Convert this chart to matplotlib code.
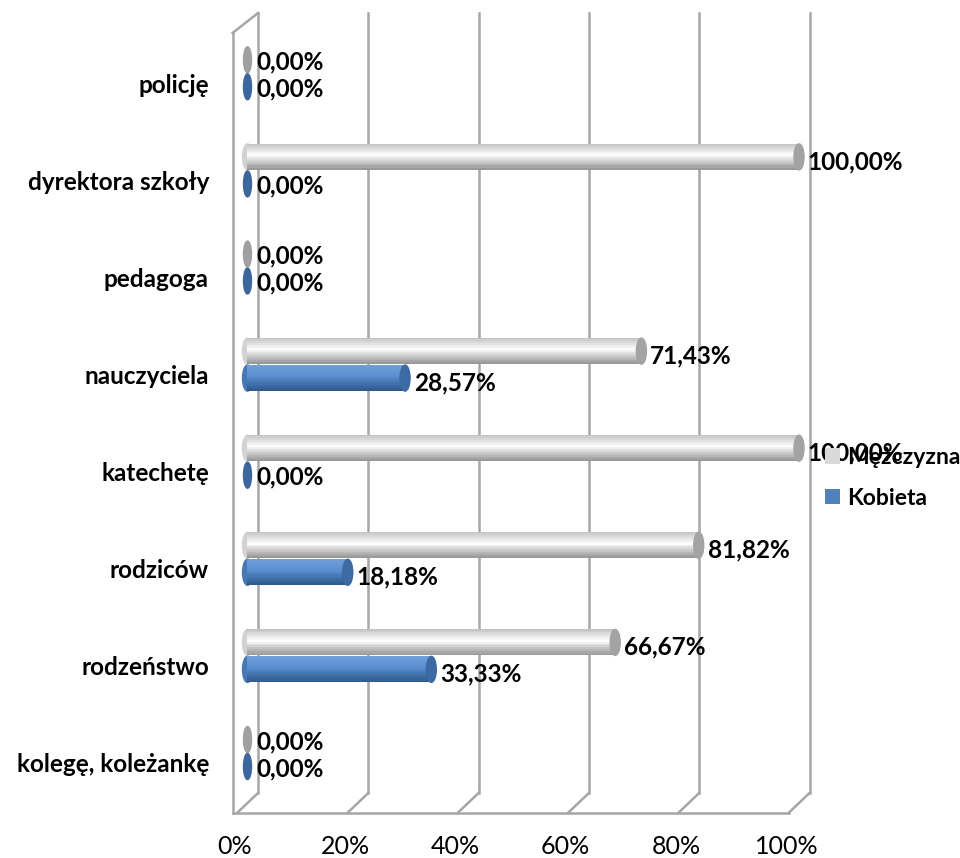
import numpy as np
import matplotlib
matplotlib.use("Agg")
import matplotlib.pyplot as plt
from matplotlib.patches import Ellipse, Patch
from matplotlib.colors import to_rgb

# --- data (bottom -> top) ---
categories = ["kolegę, koleżankę", "rodzeństwo", "rodziców", "katechetę",
              "nauczyciela", "pedagoga", "dyrektora szkoły", "policję"]
men = [0.0, 66.67, 81.82, 100.0, 71.43, 0.0, 100.0, 0.0]      # Mężczyzna
women = [0.0, 33.33, 18.18, 0.0, 28.57, 0.0, 0.0, 0.0]        # Kobieta
series_names = ["Mężczyzna", "Kobieta"]
xticks = [0, 20, 40, 60, 80, 100]
xtick_labels = ["0%", "20%", "40%", "60%", "80%", "100%"]

FONT = ["Lato", "DejaVu Sans"]
plt.rcParams['font.family'] = FONT

W, H = 960, 858
fig = plt.figure(figsize=(W / 100, H / 100), dpi=100)
ax = fig.add_axes([0, 0, 1, 1])
ax.axis("off")

# pixel mapping: front plane 0% at x=237, 5.515 px per percent
x0_px, xs = 237.0, 5.515
ax.set_xlim(-x0_px / xs, (W - x0_px) / xs)
# categories: 97.1 px apart, bottom label at y=765
y0_px, ys = 765.0, 97.1
ax.set_ylim((y0_px - H) / ys, y0_px / ys)

dx = 21 / xs      # full depth shift (right)
dy = 20 / ys      # full depth shift (up)
y_top = (y0_px - 13) / ys
y_floor_back = (y0_px - 793) / ys
y_floor_front = y_floor_back - dy
y_wall_front_top = y_top - dy

grid_c = "#a6a6a6"
lw = 1.8
# back wall gridlines
for t in xticks:
    ax.plot([t + dx, t + dx], [y_floor_back, y_top], color=grid_c, lw=lw, zorder=1)
    ax.plot([t, t + dx], [y_floor_front, y_floor_back], color=grid_c, lw=lw, zorder=1)
# floor front edge
ax.plot([-0.8, 100], [y_floor_front, y_floor_front], color=grid_c, lw=lw, zorder=1)
# left side wall
ax.plot([-0.8, -0.8], [y_floor_front, y_wall_front_top], color=grid_c, lw=lw, zorder=1)
ax.plot([-0.8, dx], [y_wall_front_top, y_top], color=grid_c, lw=lw, zorder=1)

# x tick labels
for t, lab in zip(xticks, xtick_labels):
    ax.text(t - 0.4, (y0_px - 847) / ys, lab, ha="center", va="center",
            fontsize=18, color="#000000")

# category labels
y = np.arange(len(categories))
for yi, cat in zip(y, categories):
    ax.text((209 - x0_px) / xs, yi, cat, ha="right", va="center",
            fontsize=17.5, fontweight="bold", color="#000000")

# cylinders
bar_h = 26 / ys
gap = 13.5 / ys
mid = 12 / ys
bx = 10.5 / xs
cap_w = 10 / xs
nstrip = 14


def cyl_colors(top, midc, bot, n):
    top, midc, bot = map(np.array, map(to_rgb, (top, midc, bot)))
    out = []
    for k in range(n):
        f = k / (n - 1)
        if f < 0.45:
            c = top + (midc - top) * (f / 0.45)
        else:
            c = midc + (bot - midc) * ((f - 0.45) / 0.55)
        out.append(tuple(np.clip(c, 0, 1)))
    return out


styles = [
    dict(cols=cyl_colors("#c4c4c4", "#ffffff", "#999999", nstrip), cap="#a3a3a3", zcap="#a0a0a0"),
    dict(cols=cyl_colors("#6f9fd8", "#5b8fd0", "#2f5a8e", nstrip), cap="#3d6aa3", zcap="#3c679c"),
]

for si, (vals, st) in enumerate(zip([men, women], styles)):
    yc = y + mid + (gap if si == 0 else -gap)
    for k in range(nstrip):
        yk = yc + bar_h / 2 - (k + 0.5) * bar_h / nstrip
        hk = bar_h / nstrip * (1.8 if 0 < k < nstrip - 1 else 1.0)
        ax.barh(yk, vals, height=hk, left=bx, color=st["cols"][k],
                edgecolor="none", linewidth=0, zorder=3 + k * 0.01)
    for yi, v in zip(yc, vals):
        if v == 0:
            ax.add_patch(Ellipse((bx, yi), cap_w * 0.8, bar_h, color=st["zcap"], zorder=4))
        else:
            ax.add_patch(Ellipse((bx, yi), cap_w, bar_h, color=st["cols"][nstrip // 2 + 2], zorder=2))
            ax.add_patch(Ellipse((bx + v, yi), cap_w, bar_h, color=st["cap"], zorder=4))
        lab = f"{v:.2f}".replace(".", ",") + "%"
        off = 5 if v > 0 else 2
        ax.text(bx + v + 1.6, yi - off / ys, lab, ha="left", va="center",
                fontsize=17.5, fontweight="bold", color="#000000", zorder=5)

# legend
handles = [Patch(facecolor="#d9d9d9", edgecolor="none"),
           Patch(facecolor="#4f81bd", edgecolor="none")]
ax.legend(handles, series_names, loc="upper left",
          bbox_to_anchor=(816 / W, 1 - 438 / H), frameon=False,
          handlelength=0.65, handleheight=0.65, handletextpad=0.3,
          labelspacing=0.85, borderaxespad=0,
          prop=dict(family=FONT, size=16.5, weight="bold"))

fig.savefig("out.png", dpi=100, facecolor="white")
